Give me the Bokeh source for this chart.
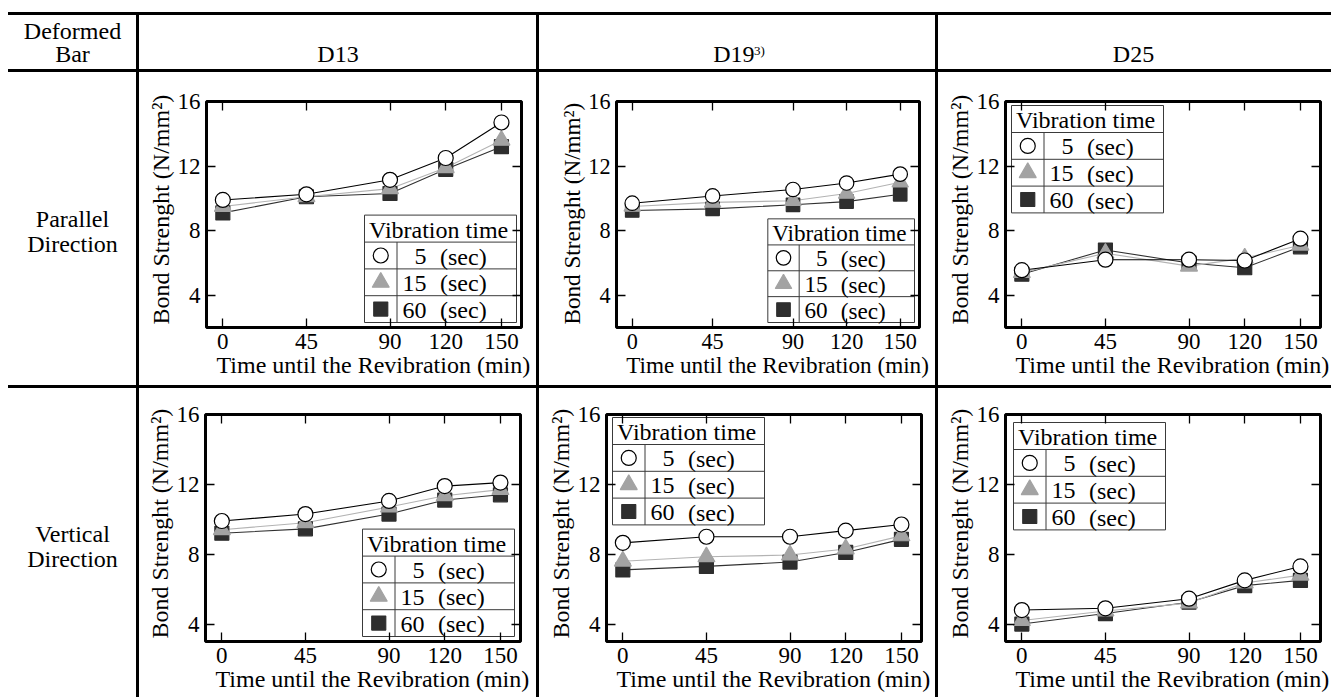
from bokeh.plotting import figure
from bokeh.models import Range1d, LinearAxis, FixedTicker, Spacer, Title
from bokeh.layouts import row, column
from bokeh.embed import file_html
from bokeh.resources import INLINE
from bokeh.core.properties import value

FONT = "Liberation Serif"

# ---------------- data ----------------
REVIB_MIN = [0, 45, 90, 120, 150]
X_TICKS = [0, 45, 90, 120, 150]
Y_TICKS = [4, 8, 12, 16]
VIB_LABELS = ["5", "15", "60"]
LEG_TITLE = "Vibration time"
LEG_UNIT = "(sec)"
X_TITLE = "Time until the Revibration (min)"
Y_TITLE = "Bond Strenght (N/mm\u00b2)"
CORNER = ["Deformed", "Bar"]
BARS = ["D13", "D19", "D25"]
D19_NOTE = "3)"
ROW_LABELS = [["Parallel", "Direction"], ["Vertical", "Direction"]]

PAR_D13_5 = [9.9, 10.25, 11.15, 12.5, 14.7]
PAR_D13_15 = [9.5, 10.1, 10.6, 11.9, 13.6]
PAR_D13_60 = [9.1, 10.1, 10.3, 11.8, 13.2]
PAR_D19_5 = [9.7, 10.15, 10.55, 10.95, 11.5]
PAR_D19_15 = [9.5, 9.75, 9.85, 10.3, 11.0]
PAR_D19_60 = [9.25, 9.35, 9.6, 9.8, 10.25]
PAR_D25_5 = [5.55, 6.2, 6.2, 6.15, 7.5]
PAR_D25_15 = [5.4, 6.6, 5.8, 6.3, 7.1]
PAR_D25_60 = [5.3, 6.8, 6.0, 5.7, 7.0]
VER_D13_5 = [9.9, 10.3, 11.05, 11.9, 12.1]
VER_D13_15 = [9.4, 9.8, 10.7, 11.35, 11.7]
VER_D13_60 = [9.2, 9.45, 10.3, 11.1, 11.4]
VER_D19_5 = [8.65, 9.0, 9.0, 9.35, 9.7]
VER_D19_15 = [7.6, 7.85, 7.95, 8.3, 9.05]
VER_D19_60 = [7.1, 7.3, 7.55, 8.1, 8.85]
VER_D25_5 = [4.8, 4.9, 5.45, 6.5, 7.3]
VER_D25_15 = [4.2, 4.75, 5.2, 6.35, 6.8]
VER_D25_60 = [4.0, 4.6, 5.25, 6.2, 6.5]

# ---------------- styles / layout ----------------
X_LO, X_HI = -8.8, 160.8
Y_HI = 16
PAD_L, PAD_T = 8, 12
W0, LW = 128, 3
WC = [397, 396, 393]
H_HDR = 54
H_ROW = [313, 309]
ROW_TB = [(29, 58), (26, 56)]   # frame top / bottom borders per table row
TOTAL_W = W0 + 3 * LW + sum(WC)
TOTAL_H = LW + H_HDR + LW + H_ROW[0] + LW + H_ROW[1]

MARKERS = ["circle", "triangle", "square"]
M_SIZE = [15, 17, 14]
M_FILL = ["white", "#a3a3a3", "#2e2e2e"]
M_LINE = ["black", "#a3a3a3", "#2e2e2e"]
S_LINE = ["black", "#b3b3b3", "#303030"]

LEG_W, LEG_HDR, LEG_ROW, LEG_DIV = 152, 27, 26.8, 32.5
LEG_LINE = "#3a3a3a"

BLACK = {"background-color": "black"}
WHITE = {"background-color": "white"}


def px(v):
    return f"{v:.2f}px"


def text_fig(w, h, t=0, b=0):
    # frame spans cell rows t .. h-b; data units = cell pixels (y downward)
    p = figure(width=w, height=h, min_border_left=0, min_border_right=0,
               min_border_top=t, min_border_bottom=b,
               x_range=Range1d(0, w), y_range=Range1d(h - b, t),
               x_axis_location=None, y_axis_location=None, output_backend="svg",
               toolbar_location=None, outline_line_color=None,
               background_fill_color="white", border_fill_color="white")
    p.grid.visible = False
    return p


def add_text(p, xs, ys, texts, size="24px", align="center", baseline="middle", **kw):
    p.text(x=xs, y=ys, text=texts, text_font=value(FONT), text_font_size=size,
           text_align=align, text_baseline=baseline, text_color="black", **kw)


def style_axis(ax, ticks, show, standoff, k):
    ax.ticker = FixedTicker(ticks=ticks)
    ax.major_tick_in = round(9 * k)
    ax.major_tick_out = 0
    ax.major_tick_line_color = "black"
    ax.major_tick_line_width = 1.3
    ax.minor_tick_line_color = None
    ax.axis_line_color = None
    ax.major_label_text_font = FONT
    if show:
        ax.major_label_text_color = "black"
        ax.major_label_text_font_size = px(23 * k)
        ax.major_label_standoff = standoff
    else:
        ax.major_label_text_color = None
        ax.major_label_text_font_size = "1px"
        ax.major_label_standoff = 0


def axis_title(text, offset, standoff, k):
    return Title(text=text, align="left", offset=offset, standoff=standoff,
                 vertical_align="middle", text_font=FONT, text_font_size=px(24 * k),
                 text_font_style="normal", text_color="black")


def make_plot(w, h, l, r, tb, ylo, s5, s15, s60, corner, dx, dy, k=1.0):
    t, b = tb
    fw, fh = w - l - r, h - t - b
    p = figure(width=w, height=h, min_border_left=l, min_border_right=r,
               min_border_top=t, min_border_bottom=b,
               x_range=Range1d(X_LO, X_HI), y_range=Range1d(ylo, Y_HI),
               output_backend="svg", toolbar_location=None,
               outline_line_color="black", outline_line_width=3,
               background_fill_color="white", border_fill_color="white")
    p.xgrid.visible = False
    p.ygrid.visible = False
    p.add_layout(LinearAxis(), "above")
    p.add_layout(LinearAxis(), "right")
    style_axis(p.below[0], X_TICKS, True, 6, k)
    style_axis(p.above[0], X_TICKS, False, 0, k)
    style_axis(p.left[0], Y_TICKS, True, 6, k)
    style_axis(p.right[0], Y_TICKS, False, 0, k)
    p.add_layout(axis_title(X_TITLE, 10 * k, -2, k), "below")
    p.add_layout(axis_title(Y_TITLE, 3, 0, k), "left")

    series = [s5, s15, s60]
    for i in (2, 1, 0):
        p.line(REVIB_MIN, series[i], line_color=S_LINE[i], line_width=1.1)
    for i in (2, 1, 0):
        p.scatter(REVIB_MIN, series[i], marker=MARKERS[i], size=M_SIZE[i] * k,
                  fill_color=M_FILL[i], line_color=M_LINE[i], line_width=1.2)

    # legend table, drawn in frame pixel space (x right, y down from top-left)
    p.extra_x_ranges = {"lx": Range1d(0, fw)}
    p.extra_y_ranges = {"ly": Range1d(fh, 0)}
    kw = dict(x_range_name="lx", y_range_name="ly")
    lw_, lhdr, lrow, ldiv = LEG_W * k, LEG_HDR * k, LEG_ROW * k, LEG_DIV * k
    lh = lhdr + 3 * lrow
    if corner == "br":
        bx, by = fw - dx - lw_, fh - dy - lh
    else:
        bx, by = dx, dy
    p.quad(left=[bx], right=[bx + lw_], top=[by], bottom=[by + lh],
           fill_color="white", line_color=LEG_LINE, line_width=1, **kw)
    ys = [by + lhdr + i * lrow for i in range(3)]
    p.segment(x0=[bx] * 3, y0=ys, x1=[bx + lw_] * 3, y1=ys,
              line_color=LEG_LINE, line_width=1, **kw)
    p.segment(x0=[bx + ldiv], y0=[by + lhdr], x1=[bx + ldiv], y1=[by + lh],
              line_color=LEG_LINE, line_width=1, **kw)
    fs = px(24 * k)
    add_text(p, [bx + 4.5 * k], [by + lhdr / 2 + 1], [LEG_TITLE], size=fs, align="left", **kw)
    cy = [by + lhdr + (i + 0.5) * lrow for i in range(3)]
    for i in range(3):
        p.scatter(x=[bx + ldiv / 2], y=[cy[i]], marker=MARKERS[i], size=M_SIZE[i] * k,
                  fill_color=M_FILL[i], line_color=M_LINE[i], line_width=1.2, **kw)
    add_text(p, [bx + 62 * k] * 3, [c + 1 for c in cy], VIB_LABELS, size=fs, align="right", **kw)
    add_text(p, [bx + 75.5 * k] * 3, [c + 1 for c in cy], [LEG_UNIT] * 3, size=fs,
             align="left", **kw)
    return p


# ---------------- header ----------------
hdr0 = text_fig(W0, H_HDR)
add_text(hdr0, [W0 / 2, W0 / 2], [15, 38.5], CORNER)
hdr1 = text_fig(WC[0], H_HDR)
add_text(hdr1, [WC[0] / 2], [38.5], [BARS[0]])
hdr2 = text_fig(WC[1], H_HDR)
add_text(hdr2, [173.7], [38.5], [BARS[1]], align="left")
add_text(hdr2, [214.5], [27.5], [D19_NOTE], size="13px", align="left", baseline="top")
hdr3 = text_fig(WC[2], H_HDR)
add_text(hdr3, [195], [38.5], [BARS[2]])

# ---------------- row labels ----------------
h1, h2 = H_ROW
lab1 = text_fig(W0, h1, *ROW_TB[0])
add_text(lab1, [W0 / 2] * 2, [146, 171], ROW_LABELS[0])
lab2 = text_fig(W0, h2, *ROW_TB[1])
add_text(lab2, [W0 / 2] * 2, [145, 170], ROW_LABELS[1])

# ---------------- plots ----------------
p13 = make_plot(WC[0], h1, 67, 15, ROW_TB[0], 2, PAR_D13_5, PAR_D13_15, PAR_D13_60, "br", 5, 5)
p19 = make_plot(WC[1], h1, 77, 16, ROW_TB[0], 2, PAR_D19_5, PAR_D19_15, PAR_D19_60, "br", 5, 5,
                k=0.965)
p25 = make_plot(WC[2], h1, 67, 11, ROW_TB[0], 2, PAR_D25_5, PAR_D25_15, PAR_D25_60, "tl", 6, 4)
v13 = make_plot(WC[0], h2, 66, 16, ROW_TB[1], 3, VER_D13_5, VER_D13_15, VER_D13_60, "br", 6, 5)
v19 = make_plot(WC[1], h2, 67, 14, ROW_TB[1], 3, VER_D19_5, VER_D19_15, VER_D19_60, "tl", 6, 3)
v25 = make_plot(WC[2], h2, 67, 11, ROW_TB[1], 3, VER_D25_5, VER_D25_15, VER_D25_60, "tl", 8, 8)


def wrap(c):
    return column(c, styles=WHITE)


def table_row(cells):
    return row(*[wrap(c) for c in cells], spacing=LW, styles=BLACK)


table = column(
    Spacer(width=TOTAL_W, height=0),
    table_row([hdr0, hdr1, hdr2, hdr3]),
    table_row([lab1, p13, p19, p25]),
    table_row([lab2, v13, v19, v25]),
    spacing=LW, styles=BLACK,
)

page = column(
    Spacer(width=PAD_L + TOTAL_W, height=PAD_T),
    row(Spacer(width=PAD_L, height=TOTAL_H), table, spacing=0),
    spacing=0,
)

open("out.html", "w").write(file_html(page, INLINE))
